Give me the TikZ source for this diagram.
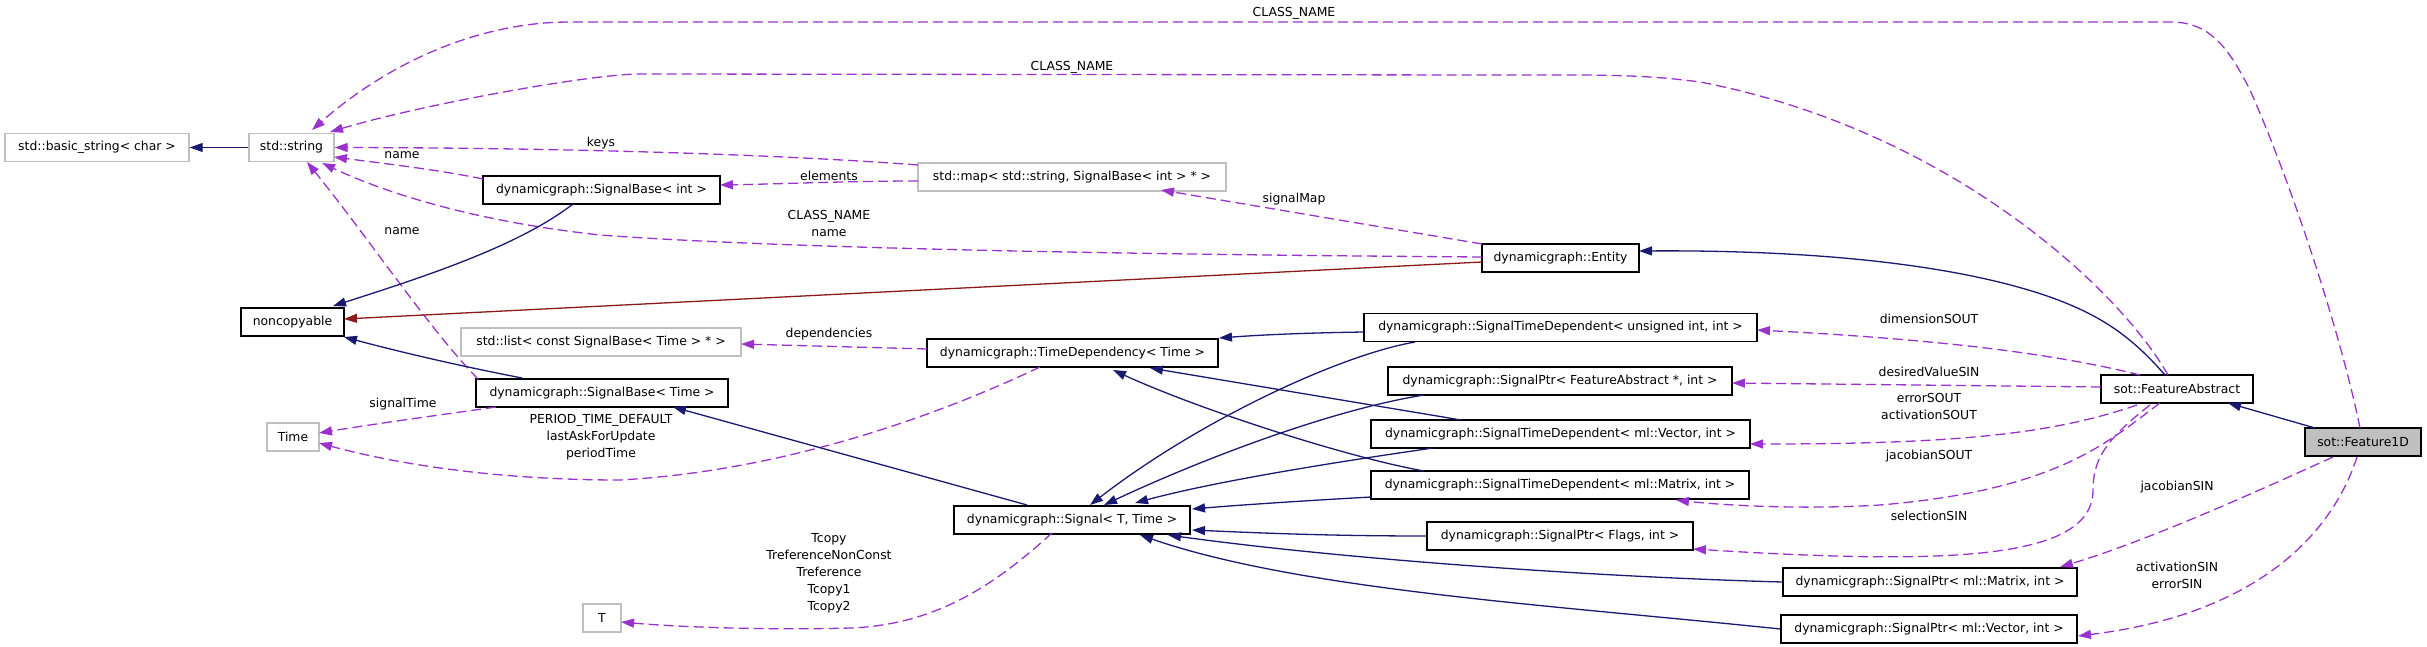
\documentclass[tikz,border=0pt]{standalone}
\usepackage{fontspec}
\setmainfont{DejaVu Sans}
\usetikzlibrary{arrows.meta,calc}
\definecolor{navy}{HTML}{191970}
\definecolor{orchid}{HTML}{9A32CD}
\definecolor{fbrick}{HTML}{8B1A1A}
\definecolor{extgray}{HTML}{BFBFBF}
\newcommand\labfont{\fontsize{12.4}{17}\selectfont}
\tikzset{
  cls/.style={draw=black, line width=1.4pt, minimum height=28pt, inner sep=0pt, font=\labfont, fill=white},
  ext/.style={cls, draw=extgray},
  lbl/.style={inner sep=0pt, font=\labfont, align=center},
  tipstyle/.style={-{Triangle[length=13pt,width=9pt]}},
  inh/.style={draw=navy, line width=1.3pt, tipstyle},
  priv/.style={draw=fbrick, line width=1.3pt, tipstyle},
  use/.style={draw=orchid, line width=1.3pt, dash pattern=on 10pt off 5pt, tipstyle}
}
\begin{document}
\begin{tikzpicture}[x=1pt,y=-1pt]
\useasboundingbox (0,0) rectangle (2427,647);
% nodes
\node[ext, minimum width=184pt] (basic) at (97,147.5) {std::basic\_string< char >};
\node[ext, minimum width=85pt] (string) at (291.5,147.5) {std::string};
\node[cls, minimum width=103pt] (noncopy) at (292.5,322) {noncopyable};
\node[cls, minimum width=237pt] (sbint) at (601.5,190) {dynamicgraph::SignalBase< int >};
\node[ext, minimum width=308pt] (map) at (1072,177) {std::map< std::string, SignalBase< int > * >};
\node[cls, minimum width=157pt] (entity) at (1560.5,258) {dynamicgraph::Entity};
\node[ext, minimum width=280pt] (list) at (601,342) {std::list< const SignalBase< Time > * >};
\node[ext, minimum width=52pt] (time) at (293,437) {Time};
\node[cls, minimum width=252pt] (sbtime) at (602,393) {dynamicgraph::SignalBase< Time >};
\node[cls, minimum width=291pt] (timedep) at (1072.5,353) {dynamicgraph::TimeDependency< Time >};
\node[ext, minimum width=38pt] (T) at (602,618) {T};
\node[cls, minimum width=236pt] (signal) at (1072,520) {dynamicgraph::Signal< T, Time >};
\node[cls, minimum width=393pt] (stdu) at (1560.5,327.5) {dynamicgraph::SignalTimeDependent< unsigned int, int >};
\node[cls, minimum width=344pt] (sptrfa) at (1560,381) {dynamicgraph::SignalPtr< FeatureAbstract *, int >};
\node[cls, minimum width=379pt] (stdv) at (1560.5,434) {dynamicgraph::SignalTimeDependent< ml::Vector, int >};
\node[cls, minimum width=378pt] (stdm) at (1560,485) {dynamicgraph::SignalTimeDependent< ml::Matrix, int >};
\node[cls, minimum width=266pt] (flags) at (1560,536) {dynamicgraph::SignalPtr< Flags, int >};
\node[cls, minimum width=294pt] (sptrm) at (1930,582) {dynamicgraph::SignalPtr< ml::Matrix, int >};
\node[cls, minimum width=296pt] (sptrv) at (1929,629) {dynamicgraph::SignalPtr< ml::Vector, int >};
\node[cls, minimum width=152pt] (featabs) at (2177,389) {sot::FeatureAbstract};
\node[cls, minimum width=116pt, fill=extgray] (feat1d) at (2363,442) {sot::Feature1D};
% edges
\draw[inh] (string.west) -- (basic.east);
\draw[use] ($(feat1d)+(-3,-14)$) .. controls (2340,330) and (2290,180) .. (2250,90) .. controls (2225,40) and (2205,22) .. (2170,22) -- (570,22) .. controls (470,22) and (380,70) .. ($(string)+(20.5,-17.5)$);
\draw[use] ($(featabs)+(-9,-14)$) .. controls (2120,290) and (1950,130) .. (1700,82) .. controls (1640,74) and (1600,75) .. (1500,75) -- (640,74) .. controls (590,74) and (420,105) .. ($(string)+(38.5,-15.5)$);
\draw[use] ($(map)+(-154,-12)$) .. controls (800,156) and (600,148) .. (string.east);
\draw[use] ($(sbint)+(-118.5,-11)$) .. controls (440,170) and (380,163) .. ($(string)+(42.5,9.5)$);
\draw[use] ($(entity)+(-78.5,-1)$) .. controls (1200,255) and (800,250) .. (600,235) .. controls (480,222) and (390,195) .. ($(string)+(30.5,15.5)$);
\draw[use] ($(sbtime)+(-124,-14)$) .. controls (430,330) and (370,240) .. ($(string)+(15.5,14.5)$);
\draw[inh] ($(sbint)+(-28.5,14)$) .. controls (520,245) and (430,275) .. ($(noncopy)+(40.5,-16)$);
\draw[priv] ($(entity)+(-78.5,4)$) -- ($(noncopy)+(51.5,-3)$);
\draw[inh] ($(sbtime)+(-80,-15)$) .. controls (460,366) and (400,352) .. ($(noncopy)+(51.5,15)$);
\draw[use] ($(map)+(-154,4)$) .. controls (850,181) and (780,184) .. ($(sbint)+(118.5,-5)$);
\draw[use] ($(entity)+(-78.5,-14)$) -- ($(map)+(89,13)$);
\draw[inh] ($(featabs)+(-12,-14)$) .. controls (2130,335) and (2100,315) .. (2050,297) .. controls (1950,262) and (1800,250) .. ($(entity)+(78.5,-7)$);
\draw[use] ($(sbtime)+(-106,14)$) .. controls (440,415) and (380,423) .. ($(time)+(26,-4)$);
\draw[use] ($(timedep)+(-32.5,14)$) .. controls (960,405) and (800,470) .. (620,480) .. controls (500,480) and (400,465) .. ($(time)+(26,6)$);
\draw[use] ($(timedep)+(-145.5,-4)$) -- ($(list)+(140,2)$);
\draw[inh] ($(stdu)+(-196.5,4.5)$) .. controls (1300,333) and (1260,335) .. ($(timedep)+(146.5,-15)$);
\draw[inh] ($(stdv)+(-99.5,-14)$) -- ($(timedep)+(77.5,15)$);
\draw[inh] ($(stdm)+(-136,-14)$) .. controls (1350,458) and (1200,410) .. ($(timedep)+(40.5,17)$);
\draw[inh] ($(signal)+(-45,-15)$) -- ($(sbtime)+(71,14)$);
\draw[inh] ($(stdu)+(-145.5,14.5)$) .. controls (1340,355) and (1200,420) .. ($(signal)+(18,-15)$);
\draw[inh] ($(sptrfa)+(-136,14)$) .. controls (1330,410) and (1200,460) .. ($(signal)+(32,-15)$);
\draw[inh] ($(stdv)+(-127.5,14)$) .. controls (1350,460) and (1220,480) .. ($(signal)+(63,-17)$);
\draw[inh] ($(stdm)+(-189,12)$) .. controls (1300,501) and (1240,505) .. ($(signal)+(120,-11)$);
\draw[inh] (flags.west) .. controls (1330,536) and (1260,533) .. ($(signal)+(120,10)$);
\draw[inh] (sptrm.west) .. controls (1600,577) and (1350,560) .. ($(signal)+(96,15)$);
\draw[inh] (sptrv.west) .. controls (1550,605) and (1300,590) .. ($(signal)+(68,15)$);
\draw[use] ($(signal)+(-20,13)$) .. controls (1000,580) and (940,625) .. (850,628) .. controls (780,630) and (690,628) .. ($(T)+(19,4)$);
\draw[inh] ($(feat1d)+(-48,-14)$) -- ($(featabs)+(51,14)$);
\draw[use] ($(featabs)+(-37,-14)$) .. controls (2060,355) and (1950,340) .. ($(stdu)+(196.5,2.5)$);
\draw[use] ($(featabs)+(-76,-2)$) -- ($(sptrfa)+(172,2)$);
\draw[use] ($(featabs)+(-40,16)$) .. controls (2050,435) and (1950,444) .. ($(stdv)+(189.5,10)$);
\draw[use] ($(featabs)+(-17,14)$) .. controls (2110,440) and (2060,490) .. (1880,505) .. controls (1800,510) and (1720,505) .. ($(stdm)+(116,15)$);
\draw[use] ($(featabs)+(-27,16)$) .. controls (2105,440) and (2093,460) .. (2093,490) .. controls (2093,560) and (1950,565) .. ($(flags)+(133,13)$);
\draw[use] ($(feat1d)+(-30,15)$) .. controls (2260,490) and (2150,540) .. ($(sptrm)+(130,-15)$);
\draw[use] ($(feat1d)+(-6,15)$) .. controls (2330,540) and (2250,615) .. ($(sptrv)+(149,7)$);
% labels
\node[lbl] (lcn1) at (1294,13) {CLASS\_NAME};
\node[lbl] (lcn2) at (1072,67) {CLASS\_NAME};
\node[lbl] (lkeys) at (601,143) {keys};
\node[lbl] (lname1) at (402,155) {name};
\node[lbl] (lelem) at (829,176) {elements};
\node[lbl] (lsmap) at (1294,199) {signalMap};
\node[lbl] (lcnname) at (829,223) {CLASS\_NAME\\name};
\node[lbl] (lname2) at (402,231) {name};
\node[lbl] (ldep) at (829,334) {dependencies};
\node[lbl] (lstime) at (403,404) {signalTime};
\node[lbl] (lperiod) at (601,437) {PERIOD\_TIME\_DEFAULT\\lastAskForUpdate\\periodTime};
\node[lbl] (ltcopy) at (829,573) {Tcopy\\TreferenceNonConst\\Treference\\Tcopy1\\Tcopy2};
\node[lbl] (ldim) at (1929,319) {dimensionSOUT};
\node[lbl] (ldes) at (1929,372) {desiredValueSIN};
\node[lbl] (lerr) at (1929,406.5) {errorSOUT\\activationSOUT};
\node[lbl] (ljs) at (1929,456) {jacobianSOUT};
\node[lbl] (lsel) at (1929,516) {selectionSIN};
\node[lbl] (ljin) at (2177,487) {jacobianSIN};
\node[lbl] (lact) at (2177,575) {activationSIN\\errorSIN};
\end{tikzpicture}
\end{document}
